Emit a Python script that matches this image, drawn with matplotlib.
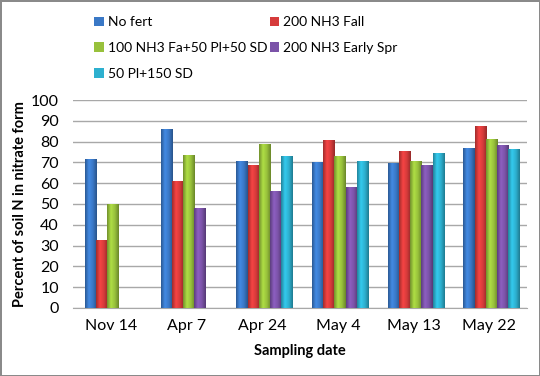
import numpy as np
import matplotlib
matplotlib.use('Agg')
import matplotlib.pyplot as plt
from matplotlib.colors import LinearSegmentedColormap, to_rgb

# 数据
dates = ['Nov 14', 'Apr 7', 'Apr 24', 'May 4', 'May 13', 'May 22']
series_names = ['No fert', '200 NH3 Fall', '100 NH3 Fa+50 Pl+50 SD',
                '200 NH3 Early Spr', '50 Pl+150 SD']
no_fert = [71.5, 86, 70.5, 70, 69.5, 76.5]
nh3_fall = [32.5, 61, 68.5, 80.5, 75.5, 87.5]
split_fa_pl_sd = [50, 73.5, 78.5, 73, 70.5, 81]
nh3_early_spr = [np.nan, 48, 56, 58, 68.5, 78]
pl_sd = [np.nan, np.nan, 73, 70.5, 74.5, 76]

colors = ['#3A78C6', '#D63B3B', '#98C13C', '#7B53A8', '#2DB0CF']

plt.rcParams['font.family'] = ['Lato', 'DejaVu Sans']

fig = plt.figure(figsize=(5.4, 3.76), dpi=100)
fig.patch.set_edgecolor('#8a8a8a')
fig.patch.set_linewidth(2)
ax = fig.add_axes([0.135, 0.181, 0.841, 0.553])

x = np.arange(len(dates))
width = 0.148
all_vals = [no_fert, nh3_fall, split_fa_pl_sd, nh3_early_spr, pl_sd]
handles = []
for i, (vals, name, c) in enumerate(zip(all_vals, series_names, colors)):
    pos = x + (i - 2) * width + 0.03
    bars = ax.bar(pos, vals, width, color=c, label=name, zorder=2,
                  edgecolor='none')
    handles.append(bars)
    # 简单的横向渐变，模仿 Excel 的立体效果
    base = np.array(to_rgb(c))
    cmap = LinearSegmentedColormap.from_list(
        'g', [base * 0.75, np.minimum(base * 1.15, 1), base, base * 0.7])
    grad = np.linspace(0, 1, 50).reshape(1, -1)
    for b in bars:
        h = b.get_height()
        if np.isnan(h):
            continue
        ax.imshow(grad, cmap=cmap, aspect='auto', zorder=3,
                  extent=[b.get_x(), b.get_x() + b.get_width(), 0, h])

ax.set_xlim(-0.5, len(dates) - 0.5)
ax.set_ylim(0, 100)
ax.set_yticks(range(0, 101, 10))
ax.set_xticks(x)
ax.set_xticklabels(dates)
ax.tick_params(axis='both', labelsize=11.5, colors='black')
ax.tick_params(axis='x', length=0, pad=8)
ax.tick_params(axis='y', length=0, pad=10)
ax.grid(axis='y', color='#a8a8a8', linewidth=1, zorder=0)
ax.set_axisbelow(True)
for s in ['left', 'right', 'top']:
    ax.spines[s].set_visible(False)
ax.spines['bottom'].set_color('#a8a8a8')

ax.set_xlabel('Sampling date', fontsize=10.5, fontweight='bold', labelpad=8)
ax.set_ylabel('Percent of soil N in nitrate form', fontsize=10.5,
              fontweight='bold', labelpad=3)

# 图例：两列，按行排列
order = [0, 2, 4, 1, 3]
leg = fig.legend([handles[k] for k in order], [series_names[k] for k in order],
                 ncol=2, loc='upper left', bbox_to_anchor=(0.151, 0.99),
                 frameon=False, fontsize=10, handlelength=0.7,
                 handleheight=0.7, handletextpad=0.3, labelspacing=1.0,
                 columnspacing=0.15)

plt.savefig('out.png', dpi=100, edgecolor=fig.get_edgecolor())
